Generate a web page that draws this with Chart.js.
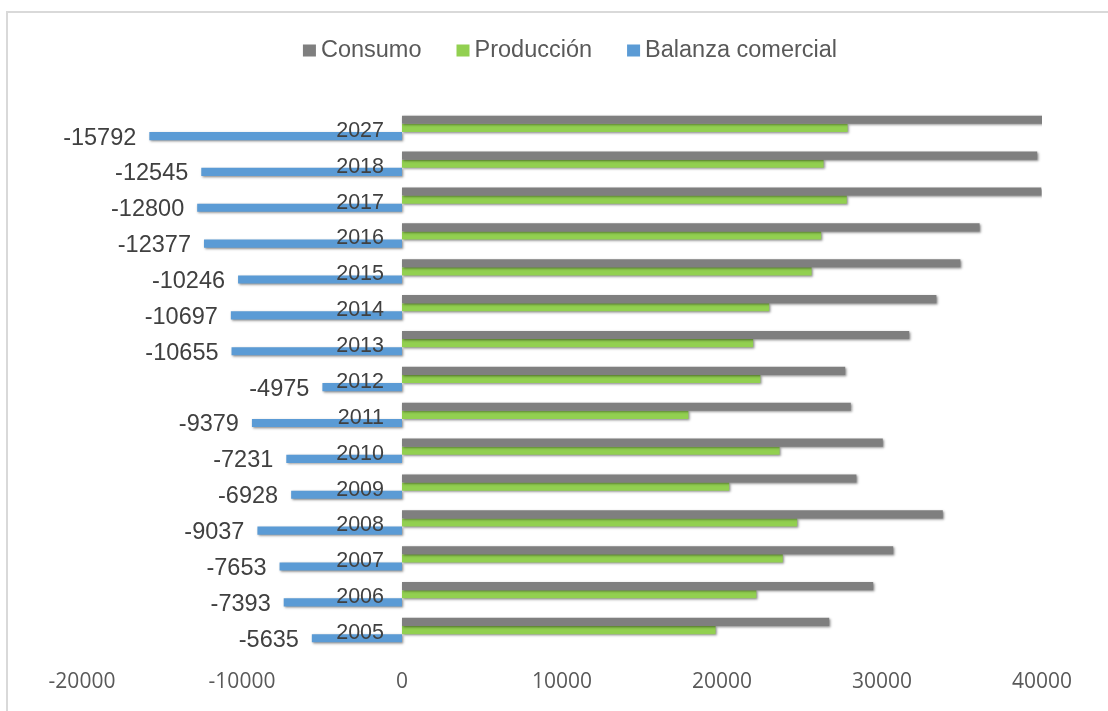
<!DOCTYPE html>
<html>
<head>
<meta charset="utf-8">
<script src="https://cdn.jsdelivr.net/npm/chart.js@4.4.1/dist/chart.umd.min.js"></script>
<style>
  html, body { margin: 0; padding: 0; background: #ffffff; }
  #wrap { position: relative; width: 1108px; height: 711px; }
</style>
</head>
<body>
<div id="wrap"><canvas id="c" width="1108" height="711"></canvas></div>
<script>
// Años (de arriba hacia abajo)
const years = ['2027', '2018', '2017', '2016', '2015', '2014', '2013', '2012', '2011', '2010', '2009', '2008', '2007', '2006', '2005'];

// Series
const consumo    = [40300, 39700, 39950, 36100, 34900, 33400, 31700, 27700, 28050, 30050, 28400, 33800, 30700, 29450, 26700];
const produccion = [27850, 26350, 27800, 26200, 25600, 22950, 21950, 22400, 17900, 23600, 20450, 24700, 23800, 22150, 19600];
const balanza    = [-15792, -12545, -12800, -12377, -10246, -10697, -10655, -4975, -9379, -7231, -6928, -9037, -7653, -7393, -5635];

// Eje de valores
const xMin = -20000;
const xMax = 40000;
const xStep = 10000;

const seriesNames  = ['Consumo', 'Producción', 'Balanza comercial'];
const seriesColors = ['#7f7f7f', '#92d050', '#5b9bd5'];

const ARIAL = '"Liberation Sans", Arial, sans-serif';

// Fondo y marco del gráfico
const framePlugin = {
  id: 'frame',
  beforeDraw(chart) {
    const ctx = chart.ctx;
    ctx.save();
    ctx.fillStyle = '#ffffff';
    ctx.fillRect(0, 0, chart.width, chart.height);
    ctx.strokeStyle = '#d9d9d9';
    ctx.lineWidth = 2;
    ctx.strokeRect(7, 12, chart.width + 20, chart.height + 20);
    ctx.restore();
  }
};

// Sombra suave bajo las barras
const shadowPlugin = {
  id: 'barShadow',
  beforeDatasetsDraw(chart) {
    const ctx = chart.ctx;
    ctx.save();
    ctx.shadowColor = 'rgba(0,0,0,0.45)';
    ctx.shadowBlur = 2.5;
    ctx.shadowOffsetX = 1.2;
    ctx.shadowOffsetY = 1.2;
  },
  afterDatasetsDraw(chart) {
    chart.ctx.restore();
  }
};

// Etiquetas de año junto al cero y valores de la balanza comercial
const labelsPlugin = {
  id: 'yearAndValueLabels',
  afterDatasetsDraw(chart) {
    const ctx = chart.ctx;
    const xs = chart.scales.x;
    const ys = chart.scales.y;
    const zero = xs.getPixelForValue(0);
    ctx.save();
    ctx.fillStyle = '#404040';
    ctx.textBaseline = 'middle';
    ctx.textAlign = 'right';
    years.forEach((yr, i) => {
      const cy = ys.getPixelForValue(i);
      ctx.font = '21.5px ' + ARIAL;
      ctx.fillText(yr, zero - 18, cy + 3);
    });
    const meta = chart.getDatasetMeta(2);
    balanza.forEach((v, i) => {
      const bar = meta.data[i];
      const left = xs.getPixelForValue(v);
      ctx.font = '23.5px ' + ARIAL;
      ctx.fillText(String(v), left - 13, bar.y + 2);
    });
    ctx.restore();
  }
};

// Leyenda superior
const legendPlugin = {
  id: 'topLegend',
  afterDraw(chart) {
    const ctx = chart.ctx;
    ctx.save();
    ctx.font = '23.5px ' + ARIAL;
    ctx.textBaseline = 'alphabetic';
    ctx.textAlign = 'left';
    const sq = 13, gap = 5, spacing = 35;
    const widths = seriesNames.map(n => ctx.measureText(n).width);
    let total = 0;
    widths.forEach((w, i) => { total += sq + gap + w + (i < widths.length - 1 ? spacing : 0); });
    let x = 570 - total / 2;
    const baseline = 56.5;
    seriesNames.forEach((n, i) => {
      ctx.fillStyle = seriesColors[i];
      ctx.fillRect(x, baseline - 12, sq, 12);
      x += sq + gap;
      ctx.fillStyle = '#595959';
      ctx.fillText(n, x, baseline);
      x += widths[i] + spacing;
    });
    ctx.restore();
  }
};

const datasets = [consumo, produccion, balanza].map((d, i) => ({
  label: seriesNames[i],
  data: d,
  backgroundColor: seriesColors[i],
  borderWidth: 0,
  categoryPercentage: 0.68,
  barPercentage: 1.0
}));

new Chart(document.getElementById('c'), {
  type: 'bar',
  data: { labels: years, datasets },
  options: {
    indexAxis: 'y',
    responsive: false,
    animation: false,
    devicePixelRatio: 1,
    layout: { padding: { left: 82, right: 66, top: 110, bottom: 0 } },
    plugins: {
      legend: { display: false },
      tooltip: { enabled: false }
    },
    scales: {
      x: {
        min: xMin,
        max: xMax,
        grid: { display: false, drawTicks: false },
        border: { display: false },
        afterFit(scale) { scale.height = 63; },
        ticks: {
          stepSize: xStep,
          padding: 21,
          color: '#595959',
          font: { family: '"Open Sans", sans-serif', size: 21 },
          maxRotation: 0,
          callback: (v) => String(v)
        }
      },
      y: {
        display: false,
        grid: { display: false }
      }
    }
  },
  plugins: [framePlugin, shadowPlugin, labelsPlugin, legendPlugin]
});
</script>
</body>
</html>
